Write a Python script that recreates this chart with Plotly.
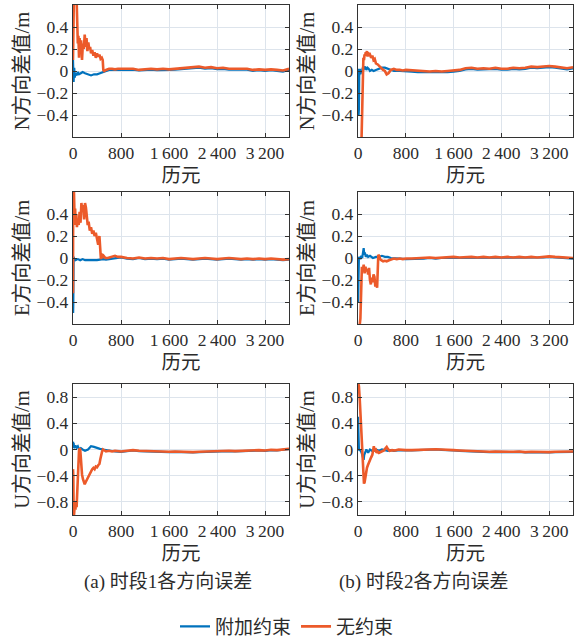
import plotly.graph_objects as go

# ---------------- data ----------------
TAIL_X = [800, 900, 1000, 1100, 1200, 1300, 1400, 1500, 1600, 1700, 1800, 1900, 2000, 2100,
          2200, 2300, 2400, 2500, 2600, 2700, 2800, 2900, 3000, 3100, 3200, 3300, 3400, 3500, 3600]

# --- period 1, N ---
N1_FREE_X = [0, 5, 15, 30, 45, 60, 70, 80, 90, 100, 110, 120, 135, 150, 165, 180, 195, 210, 225, 240,
             255, 270, 285, 300, 320, 340, 360, 380, 400, 420, 440, 460, 480, 495, 505, 520, 550, 600,
             650, 700, 750]
N1_FREE_Y = [0.10, 0.65, 0.70, 0.65, 0.62, 0.65, 0.38, 0.25, 0.32, 0.12, 0.30, 0.18, 0.28, 0.10, 0.25,
             0.20, 0.33, 0.22, 0.30, 0.18, 0.26, 0.20, 0.22, 0.16, 0.19, 0.14, 0.17, 0.12, 0.16, 0.13,
             0.15, 0.11, 0.12, 0.10, 0.01, 0.00, 0.01, 0.02, 0.02, 0.015, 0.02]
N1_FREE_TAIL = [0.02, 0.015, 0.02, 0.01, 0.015, 0.02, 0.015, 0.02, 0.015, 0.02, 0.025, 0.03, 0.035,
                0.04, 0.03, 0.035, 0.025, 0.03, 0.02, 0.02, 0.015, 0.02, 0.01, 0.015, 0.01, 0.015,
                0.01, 0.005, 0.02]
N1_CON_X = [0, 5, 10, 20, 30, 40, 60, 80, 100, 130, 160, 200, 250, 300, 350, 400, 450, 500, 550, 600, 700]
N1_CON_Y = [0.10, -0.05, -0.10, 0.03, -0.06, -0.02, -0.04, -0.01, -0.03, -0.02, -0.01, -0.02, -0.03,
            -0.04, -0.03, -0.03, -0.02, -0.01, 0.00, 0.01, 0.01]
N1_CON_TAIL = [0.01, 0.008, 0.012, 0.005, 0.01, 0.012, 0.008, 0.012, 0.01, 0.012, 0.018, 0.022, 0.025,
               0.03, 0.022, 0.025, 0.018, 0.02, 0.012, 0.012, 0.008, 0.012, 0.002, 0.008, 0.002, 0.008,
               0.002, -0.005, 0.01]

# --- period 1, E ---
E1_FREE_X = [0, 3, 8, 15, 25, 35, 45, 55, 65, 80, 95, 110, 125, 140, 155, 170, 185, 200, 215, 230, 245,
             260, 280, 300, 320, 340, 360, 380, 400, 420, 440, 455, 465, 475, 490, 510, 540, 580, 620,
             660, 700, 750]
E1_FREE_Y = [-0.32, 0.70, 0.65, 0.62, 0.38, 0.45, 0.30, 0.40, 0.28, 0.35, 0.30, 0.42, 0.32, 0.50, 0.42,
             0.48, 0.35, 0.50, 0.46, 0.40, 0.30, 0.33, 0.25, 0.28, 0.22, 0.25, 0.20, 0.23, 0.18, 0.12,
             0.20, 0.06, -0.01, 0.04, 0.00, 0.02, 0.00, 0.00, 0.005, 0.01, 0.02, 0.01]
E1_FREE_TAIL = [0.01, 0.0, -0.005, 0.005, -0.005, 0.0, -0.005, 0.0, -0.01, -0.005, 0.0, -0.005, -0.01,
                -0.005, 0.0, -0.005, -0.01, -0.005, 0.0, -0.005, -0.01, -0.005, -0.01, -0.005, -0.01,
                -0.005, -0.01, -0.015, -0.01]
E1_CON_X = [0, 2, 5, 10, 20, 40, 80, 120, 160, 200, 250, 300, 350, 400, 450, 500, 550, 600, 650, 700, 750]
E1_CON_Y = [-0.30, -0.50, -0.42, 0.01, -0.01, -0.02, -0.01, -0.02, -0.01, -0.02, -0.02, -0.025, -0.02,
            -0.02, -0.015, -0.01, -0.015, -0.01, -0.005, 0.0, 0.005]
E1_CON_TAIL = [0.005, -0.005, -0.01, 0.0, -0.01, -0.005, -0.01, -0.005, -0.015, -0.01, -0.005, -0.01,
               -0.015, -0.01, -0.005, -0.01, -0.015, -0.01, -0.005, -0.01, -0.015, -0.01, -0.015, -0.01,
               -0.015, -0.01, -0.015, -0.02, -0.015]

# --- period 1, U ---
U1_FREE_X = [0, 5, 12, 20, 30, 40, 50, 60, 70, 80, 90, 100, 110, 120, 130, 140, 150, 165, 180, 195, 210,
             225, 240, 260, 280, 300, 320, 340, 360, 380, 400, 420, 440, 455, 470, 485, 500, 520, 550,
             600, 650, 700, 750]
U1_FREE_Y = [-0.30, -0.40, -1.05, -0.90, -0.85, -0.92, -0.80, -0.88, -0.60, -0.35, -0.15, -0.02, 0.02,
             0.00, -0.12, -0.28, -0.38, -0.45, -0.50, -0.53, -0.50, -0.47, -0.44, -0.40, -0.36, -0.34,
             -0.30, -0.28, -0.30, -0.26, -0.27, -0.24, -0.22, -0.15, -0.08, -0.03, 0.00, -0.01, -0.03,
             -0.02, -0.03, -0.02, -0.03]
U1_FREE_TAIL = [-0.03, -0.02, -0.01, -0.02, -0.025, -0.03, -0.025, -0.03, -0.035, -0.03, -0.035, -0.03,
                -0.04, -0.035, -0.03, -0.035, -0.03, -0.025, -0.02, -0.025, -0.02, -0.015, -0.02, -0.01,
                -0.015, -0.005, -0.01, 0.0, 0.01]
U1_CON_X = [0, 5, 10, 20, 40, 60, 80, 100, 130, 160, 200, 250, 300, 350, 400, 450, 500, 550, 600, 700]
U1_CON_Y = [0.12, 0.05, 0.10, 0.02, 0.06, 0.03, 0.05, 0.00, 0.02, 0.00, -0.02, 0.00, 0.05, 0.04, 0.02,
            0.01, 0.00, -0.01, -0.02, -0.03]
U1_CON_TAIL = [-0.035, -0.025, -0.015, -0.025, -0.03, -0.035, -0.03, -0.035, -0.04, -0.035, -0.04,
               -0.035, -0.045, -0.04, -0.035, -0.04, -0.035, -0.03, -0.025, -0.03, -0.025, -0.02,
               -0.025, -0.015, -0.02, -0.01, -0.015, -0.005, 0.005]

# --- period 2, N ---
N2_FREE_X = [0, 10, 30, 50, 60, 70, 80, 90, 100, 110, 120, 130, 140, 150, 160, 170, 180, 200, 220, 240,
             260, 280, 300, 330, 360, 390, 420, 450, 480, 510, 550, 600, 650, 700, 750]
N2_FREE_Y = [-0.65, -0.65, -0.65, -0.65, -0.60, -0.30, 0.05, 0.12, 0.10, 0.15, 0.14, 0.17, 0.16, 0.18,
             0.13, 0.17, 0.14, 0.15, 0.12, 0.14, 0.10, 0.11, 0.07, 0.06, 0.04, 0.03, 0.01, 0.00, -0.03,
             -0.02, 0.01, 0.02, 0.01, 0.01, 0.005]
N2_FREE_TAIL = [0.01, 0.005, 0.0, 0.0, -0.005, 0.0, -0.005, 0.0, 0.005, 0.01, 0.025, 0.03, 0.02, 0.025,
                0.02, 0.03, 0.02, 0.02, 0.03, 0.025, 0.03, 0.04, 0.035, 0.04, 0.045, 0.04, 0.03, 0.025,
                0.035]
N2_CON_X = [0, 5, 10, 15, 20, 30, 40, 50, 60, 70, 80, 100, 120, 140, 160, 180, 200, 230, 260, 300, 350,
            400, 450, 500, 550, 600, 700]
N2_CON_Y = [0.00, 0.02, -0.40, -0.35, -0.05, 0.02, -0.03, 0.01, -0.02, 0.00, 0.03, 0.02, 0.04, 0.01,
            0.03, 0.02, 0.00, 0.01, 0.00, 0.01, 0.02, 0.03, 0.03, 0.02, 0.01, 0.00, 0.00]
N2_CON_TAIL = [0.0, -0.005, -0.01, -0.01, -0.015, -0.01, -0.015, -0.01, -0.005, 0.0, 0.015, 0.02, 0.012,
               0.015, 0.012, 0.02, 0.012, 0.012, 0.02, 0.015, 0.02, 0.03, 0.025, 0.03, 0.035, 0.03, 0.02,
               0.015, 0.025]

# --- period 2, E ---
E2_FREE_X = [0, 20, 40, 55, 65, 80, 95, 110, 125, 140, 155, 170, 185, 200, 215, 230, 245, 260, 275, 290,
             305, 320, 330, 340, 355, 370, 390, 420, 450, 480, 520, 560, 600, 650, 700, 750]
E2_FREE_Y = [-0.65, -0.65, -0.55, -0.25, -0.08, -0.12, -0.06, -0.14, -0.08, -0.12, -0.10, -0.15, -0.09,
             -0.20, -0.24, -0.18, -0.22, -0.15, -0.17, -0.26, -0.22, -0.27, -0.10, 0.03, 0.02, -0.01,
             -0.02, -0.03, -0.025, -0.03, -0.02, -0.01, -0.005, -0.01, -0.005, -0.01]
E2_FREE_TAIL = [-0.005, -0.005, 0.0, 0.0, 0.005, 0.0, 0.005, 0.005, 0.01, 0.005, 0.01, 0.01, 0.005, 0.01,
                0.005, 0.01, 0.005, 0.01, 0.005, 0.01, 0.005, 0.01, 0.005, 0.01, 0.015, 0.01, 0.005,
                0.0, 0.0]
E2_CON_X = [0, 3, 8, 15, 25, 40, 55, 70, 85, 95, 105, 115, 130, 150, 170, 200, 250, 300, 350, 400, 450,
            500, 550, 600, 700]
E2_CON_Y = [-0.05, -0.40, -0.20, 0.00, 0.01, -0.01, 0.02, 0.00, 0.06, 0.09, 0.03, 0.05, 0.01, 0.03,
            0.01, 0.02, 0.00, 0.01, 0.01, 0.02, 0.01, 0.01, 0.00, 0.00, -0.005]
E2_CON_TAIL = [-0.01, -0.01, -0.005, -0.005, 0.0, -0.005, 0.0, 0.0, 0.005, 0.0, 0.005, 0.005, 0.0,
               0.005, 0.0, 0.005, 0.0, 0.005, 0.0, 0.005, 0.0, 0.005, 0.0, 0.005, 0.01, 0.005, 0.0,
               -0.005, -0.005]

# --- period 2, U ---
U2_FREE_X = [0, 15, 30, 45, 60, 75, 90, 100, 110, 120, 135, 150, 165, 180, 200, 220, 240, 255, 265, 275,
             290, 310, 330, 350, 380, 410, 440, 460, 480, 500, 530, 570, 620, 680, 750]
U2_FREE_Y = [1.02, 0.97, 0.75, 0.45, 0.15, -0.15, -0.42, -0.52, -0.50, -0.42, -0.35, -0.28, -0.24,
             -0.20, -0.16, -0.12, -0.08, -0.02, 0.05, -0.03, 0.02, -0.05, -0.03, -0.05, -0.04, -0.03,
             -0.01, 0.02, 0.04, 0.01, -0.02, -0.01, -0.015, 0.00, -0.01]
U2_FREE_TAIL = [-0.01, -0.01, -0.005, 0.0, 0.0, 0.005, 0.0, 0.0, -0.01, -0.015, -0.02, -0.03, -0.035,
                -0.03, -0.035, -0.03, -0.035, -0.04, -0.035, -0.03, -0.04, -0.035, -0.04, -0.045, -0.04,
                -0.035, -0.03, -0.025, -0.03]
U2_CON_X = [0, 3, 8, 15, 25, 40, 60, 80, 95, 105, 120, 140, 170, 200, 250, 300, 350, 400, 450, 500, 550,
            600, 700]
U2_CON_Y = [0.50, 0.30, 0.08, 0.02, -0.02, 0.00, -0.05, -0.12, -0.16, -0.08, -0.04, 0.00, -0.05, 0.00,
            -0.03, 0.00, -0.02, 0.00, -0.01, -0.02, -0.01, -0.02, -0.01]
U2_CON_TAIL = [-0.015, -0.015, -0.01, -0.005, -0.005, 0.0, -0.005, -0.005, -0.015, -0.02, -0.025, -0.035,
               -0.04, -0.035, -0.04, -0.035, -0.04, -0.045, -0.04, -0.035, -0.045, -0.04, -0.045, -0.05,
               -0.045, -0.04, -0.035, -0.03, -0.035]

X_TICKS = [0, 800, 1600, 2400, 3200]
X_TICKTEXT = ["0", "800", "1\u2009600", "2\u2009400", "3\u2009200"]
Y_TICKS_NE = [-0.4, -0.2, 0, 0.2, 0.4]
Y_TICKTEXT_NE = ["\u22120.4", "\u22120.2", "0", "0.2", "0.4"]
Y_TICKS_U = [-0.8, -0.4, 0, 0.4, 0.8]
Y_TICKTEXT_U = ["\u22120.8", "\u22120.4", "0", "0.4", "0.8"]

SERIES_NAMES = ["附加约束", "无约束"]
CAPTIONS = ["(a) 时段1各方向误差", "(b) 时段2各方向误差"]
X_TITLE = "历元"

# ---------------- styling ----------------
C_CON = "#0072BD"
C_FREE = "#EC5A2A"
FONT = "Liberation Serif, 'Noto Sans CJK SC', serif"
TXT = "#2b2b2b"
GRID = "#dde4ec"
LINE = "#333333"

COL_DOM = [[0.1272, 0.5035], [0.6237, 0.9983]]
ROW_DOM = [[0.7859, 0.9922], [0.49375, 0.7], [0.1953, 0.4]]

panels = [
    (0, 0, "N方向差值/m", [-0.6, 0.6], Y_TICKS_NE, Y_TICKTEXT_NE, N1_CON_X, N1_CON_Y, N1_CON_TAIL, N1_FREE_X, N1_FREE_Y, N1_FREE_TAIL),
    (0, 1, "N方向差值/m", [-0.6, 0.6], Y_TICKS_NE, Y_TICKTEXT_NE, N2_CON_X, N2_CON_Y, N2_CON_TAIL, N2_FREE_X, N2_FREE_Y, N2_FREE_TAIL),
    (1, 0, "E方向差值/m", [-0.6, 0.6], Y_TICKS_NE, Y_TICKTEXT_NE, E1_CON_X, E1_CON_Y, E1_CON_TAIL, E1_FREE_X, E1_FREE_Y, E1_FREE_TAIL),
    (1, 1, "E方向差值/m", [-0.6, 0.6], Y_TICKS_NE, Y_TICKTEXT_NE, E2_CON_X, E2_CON_Y, E2_CON_TAIL, E2_FREE_X, E2_FREE_Y, E2_FREE_TAIL),
    (2, 0, "U方向差值/m", [-1.0, 1.0], Y_TICKS_U, Y_TICKTEXT_U, U1_CON_X, U1_CON_Y, U1_CON_TAIL, U1_FREE_X, U1_FREE_Y, U1_FREE_TAIL),
    (2, 1, "U方向差值/m", [-1.0, 1.0], Y_TICKS_U, Y_TICKTEXT_U, U2_CON_X, U2_CON_Y, U2_CON_TAIL, U2_FREE_X, U2_FREE_Y, U2_FREE_TAIL),
]

fig = go.Figure()
layout = {}
for i, (r, c, ytitle, yr, yt, ytt, cx, cy, ctail, fx, fy, ftail) in enumerate(panels):
    n = i + 1
    xa = "x" if n == 1 else f"x{n}"
    ya = "y" if n == 1 else f"y{n}"
    fig.add_trace(go.Scatter(x=cx + TAIL_X, y=cy + ctail, mode="lines", name=SERIES_NAMES[0],
                             line=dict(color=C_CON, width=2.2), xaxis=xa, yaxis=ya,
                             legendgroup="con", showlegend=(n == 1)))
    fig.add_trace(go.Scatter(x=fx + TAIL_X, y=fy + ftail, mode="lines", name=SERIES_NAMES[1],
                             line=dict(color=C_FREE, width=2.6), xaxis=xa, yaxis=ya,
                             legendgroup="free", showlegend=(n == 1)))
    common = dict(showline=True, linecolor=LINE, linewidth=1.3, mirror="ticks", ticks="inside",
                  ticklen=4, tickcolor=LINE, showgrid=True, gridcolor=GRID, gridwidth=1,
                  zeroline=False, tickfont=dict(family=FONT, size=17.5, color=TXT))
    layout["xaxis" if n == 1 else f"xaxis{n}"] = dict(
        common, domain=COL_DOM[c], anchor=ya, range=[0, 3600], tickvals=X_TICKS,
        ticktext=X_TICKTEXT,
        title=dict(text=X_TITLE, font=dict(family=FONT, size=19.5, color=TXT), standoff=6))
    layout["yaxis" if n == 1 else f"yaxis{n}"] = dict(
        common, domain=ROW_DOM[r], anchor=xa, range=yr, tickvals=yt, ticktext=ytt,
        title=dict(text=ytitle, font=dict(family=FONT, size=20.5, color=TXT), standoff=1))

fig.update_layout(**layout)
fig.update_layout(
    width=574, height=640, margin=dict(l=0, r=0, t=0, b=0, autoexpand=False),
    paper_bgcolor="white", plot_bgcolor="white",
    font=dict(family=FONT, color=TXT),
    showlegend=True,
    legend=dict(orientation="h", x=0.5, xanchor="center", y=0.021, yanchor="middle",
                font=dict(family=FONT, size=19, color=TXT), bgcolor="rgba(0,0,0,0)",
                itemwidth=30, tracegroupgap=0),
    annotations=[
        dict(text=CAPTIONS[0], x=0.2927, y=0.0906, xref="paper", yref="paper", showarrow=False,
             xanchor="center", yanchor="middle", font=dict(family=FONT, size=19, color=TXT)),
        dict(text=CAPTIONS[1], x=0.737, y=0.0906, xref="paper", yref="paper", showarrow=False,
             xanchor="center", yanchor="middle", font=dict(family=FONT, size=19, color=TXT)),
    ],
)

fig.write_html("out.html")
